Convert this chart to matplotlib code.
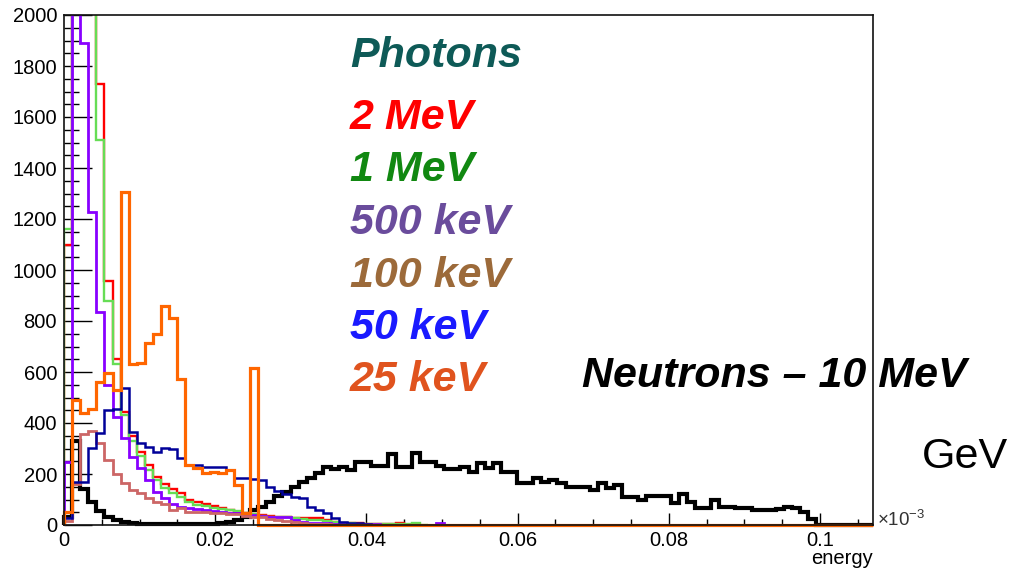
import numpy as np
import matplotlib
matplotlib.use("Agg")
import matplotlib.pyplot as plt
from matplotlib.ticker import MultipleLocator

plt.rcParams['font.family'] = ['Liberation Sans', 'DejaVu Sans']
plt.rcParams['mathtext.fontset'] = 'custom'
plt.rcParams['mathtext.rm'] = 'Liberation Sans'

# histogram binning (energy axis, in units of 1e-3 GeV)
x_max = 0.107
n_bins = 100

# counts per bin
neutrons_10MeV = [30, 330, 140, 90, 55, 33, 20, 10, 8, 5,
                  4, 3, 3, 2, 2, 3, 3, 4, 5, 7,
                  10, 18, 30, 60, 70, 92, 112, 128, 150, 170,
                  183, 203, 226, 218, 226, 216, 248, 248, 231, 231,
                  278, 229, 229, 284, 248, 248, 231, 218, 218, 229,
                  209, 242, 222, 242, 209, 209, 163, 163, 183, 170,
                  176, 163, 150, 150, 150, 137, 163, 144, 157, 111,
                  111, 98, 114, 114, 114, 85, 122, 92, 65, 65,
                  98, 72, 72, 65, 65, 59, 59, 59, 61, 72,
                  65, 50, 25, 0, 0, 0, 0, 0, 0, 0]
photons_2MeV = [1100, 2700, 2550, 2350, 1730, 957, 650, 445, 350, 285,
                235, 190, 160, 141, 124, 100, 90, 82, 73, 65,
                60, 52, 48, 45, 38, 34, 32, 30, 28, 27,
                26, 26, 18, 12, 9, 7, 6, 5, 4, 3,
                3, 6, 1, 0]
photons_1MeV = [1160, 2600, 2450, 2300, 1510, 880, 630, 431, 330, 270,
                215, 176, 144, 127, 111, 92, 80, 76, 67, 63,
                57, 54, 46, 44, 36, 33, 32, 30, 27, 24,
                21, 18, 14, 10, 8, 6, 5, 4, 3, 3,
                2, 2, 2, 6, 0]
photons_500keV = [248, 3000, 1891, 1226, 834, 550, 425, 340, 265, 222,
                  176, 131, 105, 82, 72, 67, 62, 58, 56, 52,
                  48, 46, 42, 40, 36, 33, 33, 32, 18, 12,
                  9, 8, 6, 5, 4, 3, 2, 2, 2, 1,
                  1, 1, 1, 0, 0, 0, 9, 0]
photons_100keV = [15, 160, 356, 370, 320, 255, 200, 165, 137, 124,
                  105, 92, 82, 59, 65, 52, 52, 50, 46, 46,
                  44, 44, 36, 33, 30, 22, 18, 14, 10, 7,
                  5, 3, 2, 1, 0]
photons_50keV = [27, 170, 170, 301, 359, 451, 455, 536, 366, 323,
                 307, 286, 301, 299, 261, 235, 235, 226, 229, 229,
                 216, 183, 183, 179, 176, 150, 135, 120, 108, 105,
                 69, 59, 46, 29, 13, 9, 9, 3, 0]
photons_25keV = [52, 490, 438, 454, 562, 597, 529, 1307, 630, 637,
                 715, 748, 860, 810, 573, 235, 222, 203, 209, 203,
                 216, 157, 46, 614, 0, 0, 0, 0, 0, 0,
                 0, 0, 0, 0, 0, 0, 0, 0, 0, 0,
                 0, 0, 0, 0, 0, 0, 0, 0, 0, 0,
                 0, 0, 0, 0, 0, 0, 0, 0, 0, 0,
                 0, 0, 0, 0, 0, 0, 0, 0, 0, 0,
                 0, 0, 0, 0, 0, 0, 0, 0, 0, 0,
                 0, 0, 0, 0, 0, 0, 0, 0, 0, 0,
                 0, 0, 0, 0, 0, 0, 0, 0, 0, 0]

series = [neutrons_10MeV, photons_2MeV, photons_1MeV, photons_500keV,
          photons_100keV, photons_50keV, photons_25keV]
line_colors = ['black', '#ff0000', '#66dd55', '#8800ff',
               '#cc6666', '#000099', '#ff6600']
line_widths = [3.0, 1.7, 1.7, 2.0, 2.0, 1.8, 2.3]

legend_labels = ['2 MeV', '1 MeV', '500 keV', '100 keV', '50 keV', '25 keV']
legend_colors = ['#ff0000', '#118811', '#6a4c9c', '#9c6a3a', '#1a1aff', '#e0531e']

xtick_labels = ['0', '0.02', '0.04', '0.06', '0.08', '0.1']
ytick_labels = ['0', '200', '400', '600', '800', '1000',
                '1200', '1400', '1600', '1800', '2000']


def make_plot():
    W, H = 1010, 574
    fig = plt.figure(figsize=(W / 100, H / 100), dpi=100)
    ax = fig.add_axes([64 / W, 49 / H, 809 / W, 510 / H])

    y_top = float(ytick_labels[-1])
    edges = np.linspace(0, x_max, n_bins + 1)
    for vals, c, lw in zip(series, line_colors, line_widths):
        # histograms that stay inside the frame are not clipped, so the
        # zero line shows fully along the bottom axis like in ROOT
        inside = max(vals) < y_top
        ax.stairs(vals, edges[:len(vals) + 1], color=c, linewidth=lw,
                  clip_on=not inside, zorder=2)

    ax.set_xlim(0, x_max)
    ax.set_ylim(0, y_top)

    ax.set_xticks([float(s) for s in xtick_labels])
    ax.set_xticklabels(xtick_labels)
    ax.set_yticks([float(s) for s in ytick_labels])
    ax.set_yticklabels(ytick_labels)
    ax.xaxis.set_minor_locator(MultipleLocator(0.005))
    ax.yaxis.set_minor_locator(MultipleLocator(50))

    # ROOT style ticks, pointing inward
    ax.tick_params(which='both', direction='in', labelsize=14.5, color='black')
    ax.tick_params(axis='y', which='major', length=20, width=1, pad=5)
    ax.tick_params(axis='y', which='minor', length=11, width=1)
    ax.tick_params(axis='x', which='major', length=9, width=1, pad=4.5)
    ax.tick_params(axis='x', which='minor', length=4.5, width=1)
    for s in ax.spines.values():
        s.set_linewidth(1.2)
        s.set_color('#111111')

    # axis title and multiplier
    fig.text(873 / W, 1 - 564 / H, 'energy', fontsize=14.5,
             ha='right', va='baseline')
    fig.text(877 / W, 1 - 526 / H, r'$\times$10$^{-3}$', fontsize=13.5,
             ha='left', va='baseline', color='#333333')

    # labels inside the plot
    fig.text(350 / W, 1 - 67 / H, 'Photons', fontsize=31, fontweight='bold',
             fontstyle='italic', color='#0e5a57', ha='left', va='baseline')
    baselines = [129, 181, 234, 287, 339, 391]
    for lab, c, yb in zip(legend_labels, legend_colors, baselines):
        fig.text(350 / W, 1 - yb / H, lab, fontsize=31, fontweight='bold',
                 fontstyle='italic', color=c, ha='left', va='baseline')
    fig.text(582 / W, 1 - 387 / H, 'Neutrons \u2013 10 MeV', fontsize=31,
             fontweight='bold', fontstyle='italic', color='black',
             ha='left', va='baseline')
    fig.text(922 / W, 1 - 468 / H, 'GeV', fontsize=31, color='black',
             ha='left', va='baseline')
    return fig


def main():
    fig = make_plot()
    fig.savefig('out.png', dpi=100)


main()
